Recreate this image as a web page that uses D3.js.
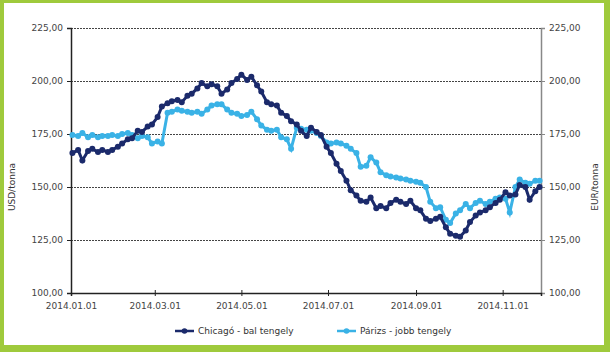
<!DOCTYPE html>
<html>
<head>
<meta charset="utf-8">
<script src="https://cdn.jsdelivr.net/npm/d3@7"></script>
<style>
  body { margin: 0; padding: 0; background: #fff; }
  svg { display: block; }
</style>
</head>
<body>
<div id="chart"></div>
<script>
//chart data (twice a week readings)
var dates = ["2014-01-02","2014-01-06","2014-01-09","2014-01-13","2014-01-16","2014-01-20","2014-01-23","2014-01-27","2014-01-30",
  "2014-02-03","2014-02-06","2014-02-10","2014-02-13","2014-02-17","2014-02-20","2014-02-24","2014-02-27",
  "2014-03-03","2014-03-06","2014-03-10","2014-03-13","2014-03-17","2014-03-20","2014-03-24","2014-03-27","2014-03-31",
  "2014-04-03","2014-04-07","2014-04-10","2014-04-14","2014-04-17","2014-04-21","2014-04-24","2014-04-28",
  "2014-05-01","2014-05-05","2014-05-08","2014-05-12","2014-05-15","2014-05-19","2014-05-22","2014-05-26","2014-05-29",
  "2014-06-02","2014-06-05","2014-06-09","2014-06-12","2014-06-16","2014-06-19","2014-06-23","2014-06-26","2014-06-30",
  "2014-07-03","2014-07-07","2014-07-10","2014-07-14","2014-07-17","2014-07-21","2014-07-24","2014-07-28","2014-07-31",
  "2014-08-04","2014-08-07","2014-08-11","2014-08-14","2014-08-18","2014-08-21","2014-08-25","2014-08-28",
  "2014-09-01","2014-09-04","2014-09-08","2014-09-11","2014-09-15","2014-09-18","2014-09-22","2014-09-25","2014-09-29",
  "2014-10-02","2014-10-06","2014-10-09","2014-10-13","2014-10-16","2014-10-20","2014-10-23","2014-10-27","2014-10-30",
  "2014-11-03","2014-11-06","2014-11-10","2014-11-13","2014-11-17","2014-11-20","2014-11-24","2014-11-27"]

var chicago = [166,167.5,162.5,167,168,166.5,167.5,166.5,167.5,
  169,170.5,172.5,173,176.5,176,178.5,179.5,
  183,188,189.5,190.5,191,190,193,194,196.5,
  199,197.5,198.5,197.5,194,196,199,201,
  203,200.5,202,198,195,190,189,188.5,185,
  183.5,181,179.5,176.5,174,178,176,174.5,169,
  166,161,157.5,153,148.5,146,143.5,143,145,
  140,141,140,142.5,144,143,142,143.5,
  140,139,135,134,135,136,131,128,127,
  126.5,129.5,133.5,136.5,138,139,140.5,142.5,144,
  147.5,146,146.5,151,150,144,148,150]

var paris = [174.5,174,175.5,173.5,174.5,173.5,174,174,174.5,
  174,175,175.5,174.5,173,174,173.5,170.5,
  171.5,170.5,185,185.5,186.5,186,185.5,185,185.5,
  184.5,186.5,188.5,189,189,186.5,185,184.5,
  183.5,184,185.5,182,179,177,176.5,177,173.5,
  172.5,168,178,177.5,177,176.5,175.5,174,171,
  170.5,171,170.5,169.5,168,166,159.5,160,164,
  161.5,157,155.5,155,154.5,154,153.5,153,
  152.5,152,150,143,140,140.5,134.5,133,137.5,
  139,142,140,142.5,143.5,142,143,144.5,145,
  144.5,138,150,153.5,152,151.5,153,153]

var yTicks = [100,125,150,175,200,225]
var xTicks = ["2014-01-01","2014-03-01","2014-05-01","2014-07-01","2014-09-01","2014-11-01"]
var seriesNames = ["Chicagó - bal tengely","Párizs - jobb tengely"]
var seriesColors = ["#1b2a6b","#3ab2e6"]

var width = 610, height = 352
var parse = d3.timeParse("%Y-%m-%d")
var fmtDate = d3.timeFormat("%Y.%m.%d")
var fmtNum = function(d){ return d3.format(".2f")(d).replace(".", ",") }

var svg = d3.select("#chart").append("svg")
  .attr("width", width)
  .attr("height", height)
  .style("font-family", "DejaVu Sans, sans-serif")

//green frame
svg.append("rect").attr("width", width).attr("height", height).attr("fill", "#9fca3c")
svg.append("rect").attr("x", 4).attr("y", 3).attr("width", 600).attr("height", 342).attr("fill", "#fff")

//scales
var x = d3.scaleTime()
  .domain([parse("2014-01-01"), parse("2014-11-28")])
  .range([71, 541])

var yLeft = d3.scaleLinear().domain([100, 225]).range([293, 28])
var yRight = d3.scaleLinear().domain([100, 225]).range([293, 28])

//grid lines
svg.append("g").selectAll("line")
  .data(yTicks.filter(d => d > 100))
  .enter().append("line")
  .attr("x1", 71).attr("x2", 541)
  .attr("y1", d => yLeft(d) + 0.5).attr("y2", d => yLeft(d) + 0.5)
  .attr("stroke", "#444")
  .attr("stroke-width", 1)
  .attr("stroke-dasharray", "2,1")

//left axis
var leftAxis = svg.append("g")
  .attr("transform", "translate(71,0)")
  .call(d3.axisLeft(yLeft).tickValues(yTicks).tickFormat(fmtNum).tickSize(4).tickPadding(4))
leftAxis.select(".domain").attr("stroke", "#222").attr("stroke-width", 1.5)

//right axis
var rightAxis = svg.append("g")
  .attr("transform", "translate(541,0)")
  .call(d3.axisRight(yRight).tickValues(yTicks).tickFormat(fmtNum).tickSize(4).tickPadding(4))
rightAxis.select(".domain").attr("stroke", "#888").attr("stroke-width", 1.5)
rightAxis.selectAll(".tick line").attr("stroke", "#888")

//bottom axis
var bottomAxis = svg.append("g")
  .attr("transform", "translate(0,293)")
  .call(d3.axisBottom(x).tickValues(xTicks.map(parse)).tickFormat(fmtDate).tickSize(3).tickPadding(7))
bottomAxis.select(".domain").attr("stroke", "#222").attr("stroke-width", 1.5)
bottomAxis.selectAll(".tick line").attr("y1", -3).attr("stroke", "#222")

svg.selectAll(".tick text").attr("fill", "#444").attr("font-size", "9px").style("font-family", "DejaVu Sans, sans-serif")
leftAxis.selectAll(".tick line").attr("stroke", "#222")

//axis titles
svg.append("text")
  .attr("transform", "translate(15,187) rotate(-90)")
  .attr("text-anchor", "middle")
  .attr("font-size", "9px").attr("fill", "#333")
  .text("USD/tonna")

svg.append("text")
  .attr("transform", "translate(598,187) rotate(-90)")
  .attr("text-anchor", "middle")
  .attr("font-size", "9px").attr("fill", "#333")
  .text("EUR/tonna")

//series
var rows = dates.map(function(d, i){ return { date: parse(d), chicago: chicago[i], paris: paris[i] } })

function drawSeries(key, scale, color){
  var line = d3.line()
    .x(d => x(d.date))
    .y(d => scale(d[key]))
  var g = svg.append("g")
  g.append("path")
    .datum(rows)
    .attr("d", line)
    .attr("fill", "none")
    .attr("stroke", color)
    .attr("stroke-width", 3)
  g.selectAll("circle")
    .data(rows)
    .enter().append("circle")
    .attr("cx", d => x(d.date))
    .attr("cy", d => scale(d[key]))
    .attr("r", 3)
    .attr("fill", color)
}

drawSeries("paris", yRight, seriesColors[1])
drawSeries("chicago", yLeft, seriesColors[0])

//legend
var legendX = [175, 337]
var legend = svg.selectAll(".legend")
  .data(seriesNames)
  .enter().append("g")
  .attr("class", "legend")
  .attr("transform", (d, i) => "translate(" + legendX[i] + ",331)")

legend.append("line")
  .attr("x1", 0).attr("x2", 19)
  .attr("y1", 0).attr("y2", 0)
  .attr("stroke", (d, i) => seriesColors[i])
  .attr("stroke-width", 2.5)
legend.append("circle")
  .attr("cx", 9.5).attr("cy", 0).attr("r", 2.8)
  .attr("fill", (d, i) => seriesColors[i])
legend.append("text")
  .attr("x", 23).attr("y", 3)
  .attr("font-size", "9px").attr("fill", "#333")
  .text(d => d)
</script>
</body>
</html>
